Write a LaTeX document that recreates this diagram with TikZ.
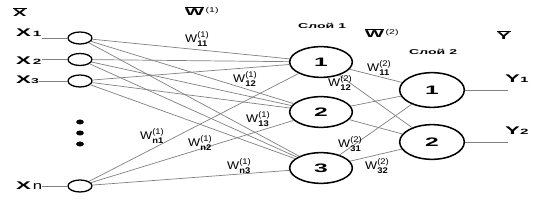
\documentclass[tikz,border=0pt]{standalone}
\usepackage{amsmath}
\usepackage{fontspec}
\setmainfont{Liberation Sans}[FakeStretch=1.15]
\newfontfamily\widesans{Liberation Sans}[FakeStretch=2.0]
\newfontfamily\midsans{Liberation Sans}[FakeStretch=1.5]
\usetikzlibrary{shapes.geometric}
\tikzset{
	inpnode/.style={draw, line width=1.1pt, ellipse, minimum width=0.72cm, minimum height=0.36cm, inner sep=0pt},
	hidnode/.style={draw, line width=1.3pt, ellipse, minimum width=1.88cm, minimum height=0.92cm, inner sep=0pt, font=\widesans\bfseries\fontsize{10.5}{12}\selectfont},
	outnode/.style={draw, line width=1.3pt, ellipse, minimum width=1.94cm, minimum height=1.04cm, inner sep=0pt, font=\widesans\bfseries\fontsize{10.5}{12}\selectfont},
	dotnode/.style={fill, ellipse, inner sep=0pt, minimum width=0.23cm, minimum height=0.15cm},
	wire/.style={draw=black!50, line width=0.6pt},
	wlabel/.style={font=\fontsize{9.5}{10}\selectfont, inner sep=0pt, anchor=base west},
	varlabel/.style={font=\widesans\bfseries\fontsize{9.5}{11}\selectfont, inner sep=0pt, anchor=base west},
	barlabel/.style={font=\widesans\bfseries\fontsize{8.5}{10}\selectfont, inner sep=0pt, anchor=base west},
	layerlabel/.style={font=\widesans\bfseries\fontsize{6}{7}\selectfont, inner sep=0pt, anchor=base west},
}
\newcommand{\wlab}[2]{$\text{W}^{\text{\fontsize{7}{8}\selectfont(#2)}}_{\text{\bfseries\fontsize{7}{8}\selectfont#1}}$}
\newcommand{\barsup}[1]{\raisebox{0.75ex}{\midsans\mdseries\fontsize{6}{7}\selectfont(#1)}}

\begin{document}
\begin{tikzpicture}[x=0.03cm, y=-0.03cm]
	\useasboundingbox (0,0) rectangle (547,202);

	% Inputs
	\node[inpnode] (i1) at (80,38) {};
	\node[inpnode] (i2) at (80,59.5) {};
	\node[inpnode] (i3) at (80,81) {};
	\node[inpnode] (in) at (80,186) {};
	\node[varlabel] (lx1) at (16,37) {X\,{\fontsize{6.5}{7}\selectfont 1}\hspace{6pt}};
	\node[varlabel] (lx2) at (16,65) {X\,{\fontsize{6.5}{7}\selectfont 2}\hspace{6pt}};
	\node[varlabel] (lx3) at (16,84) {X{\fontsize{6}{7}\selectfont 3}\hspace{6pt}};
	\node[varlabel] (lxn) at (16,190) {X\,{\midsans\mdseries n}\hspace{4pt}};
	\node[barlabel] (xbar) at (13,17) {$\overline{\text{X}}$};
	\foreach \n/\s in {dot1/122, dot2/133, dot3/144}
		\node[dotnode] (\n) at (80,\s) {};

	% Layer 1
	\node[hidnode] (h1) at (321,62) {1};
	\node[hidnode] (h2) at (321,112) {2};
	\node[hidnode] (h3) at (321,168) {3};
	\node[layerlabel] (lay1) at (298,29) {Слой 1};
	\node[barlabel] (w1bar) at (185,16) {$\overline{\text{W}}$\,\barsup{1}};

	% Layer 2
	\node[outnode] (o1) at (432,90) {1};
	\node[outnode] (o2) at (432,142) {2};
	\node[layerlabel] (lay2) at (409,55) {Слой 2};
	\node[barlabel] (w2bar) at (365,38) {$\overline{\text{W}}$\,\barsup{2}};
	\node[barlabel] (ybar) at (497,40) {$\overline{\text{Y}}$};

	% Outputs
	\coordinate (e1) at (508,90);
	\coordinate (e2) at (508,142);
	\node[varlabel] (ly1) at (505,83) {Y{\fontsize{6.5}{7}\selectfont 1}};
	\node[varlabel] (ly2) at (505,135) {Y{\fontsize{6.5}{7}\selectfont 2}};

	% Connections
	\foreach \a/\b in {lx1/i1, lx2/i2, lx3/i3, lxn/in}
		\draw[wire] (\a.east |- \b.west) -- (\b.west);
	\foreach \a/\b in {o1/e1, o2/e2}
		\draw[wire] (\a) -- (\b);
	\foreach \i in {i1,i2,i3,in}
		\foreach \h in {h1,h2,h3}
			\draw[wire] (\i) -- (\h);
	\foreach \h in {h1,h2,h3}
		\foreach \o in {o1,o2}
			\draw[wire] (\h) -- (\o);

	% Weights
	\node[wlabel] (w11) at (185,43) {\wlab{11}{1}};
	\node[wlabel] (w12) at (233,83) {\wlab{12}{1}};
	\node[wlabel] (w13) at (246,123) {\wlab{13}{1}};
	\node[wlabel] (wn1) at (140,140) {\wlab{n1}{1}};
	\node[wlabel] (wn2) at (188,147) {\wlab{n2}{1}};
	\node[wlabel] (wn3) at (227,170) {\wlab{n3}{1}};
	\node[wlabel] (v11) at (367,72) {\wlab{11}{2}};
	\node[wlabel] (v12) at (328,87) {\wlab{12}{2}};
	\node[wlabel] (v31) at (338,148) {\wlab{31}{2}};
	\node[wlabel] (v32) at (365,170) {\wlab{32}{2}};
\end{tikzpicture}
\end{document}
